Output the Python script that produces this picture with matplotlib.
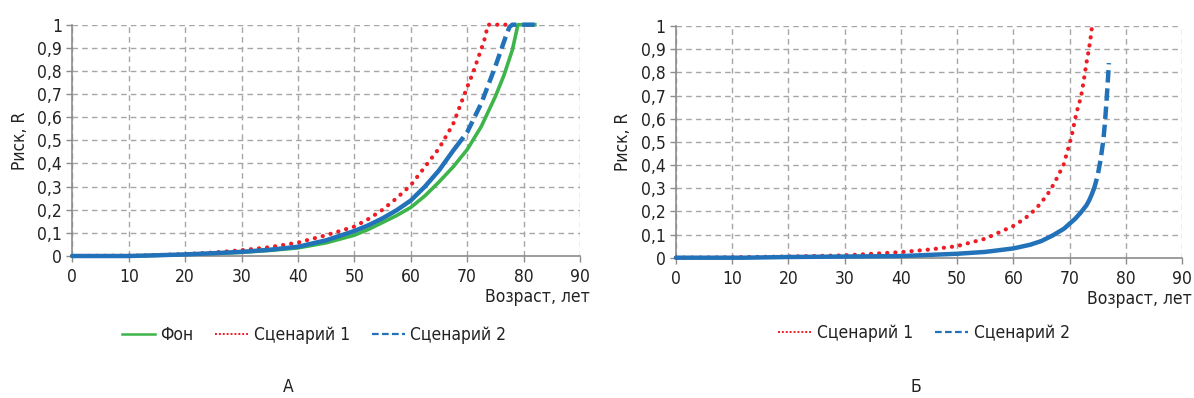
import matplotlib.pyplot as plt
from matplotlib.lines import Line2D
import numpy as np

plt.rcParams['font.family'] = ['DejaVu Sans']
plt.rcParams['font.stretch'] = 'condensed'

# panel A, age (years) vs risk R
a_bg_x = [0, 10, 15, 20, 25, 30, 35, 40, 45, 50, 52.5, 55, 57.5, 60, 62.5, 65, 67.5, 70, 72.5, 75, 76.5, 78, 79, 82]
a_bg_y = [0, 0, 0.003, 0.006, 0.01, 0.016, 0.024, 0.035, 0.057, 0.09, 0.115, 0.145, 0.175, 0.21, 0.26, 0.32, 0.385, 0.46, 0.56, 0.69, 0.78, 0.89, 1.0, 1.0]

a_s1_x = [0, 12, 20, 25, 30, 35, 40, 45, 50, 52.5, 55, 57.5, 60, 62.5, 65, 67.5, 70, 71, 72, 73, 73.7, 77]
a_s1_y = [0, 0.002, 0.008, 0.015, 0.025, 0.038, 0.058, 0.09, 0.127, 0.16, 0.2, 0.25, 0.306, 0.385, 0.465, 0.57, 0.73, 0.79, 0.86, 0.93, 1.0, 1.0]

a_s2_x = [0, 10, 15, 20, 25, 30, 35, 40, 45, 50, 52.5, 55, 57.5, 60, 62.5, 65, 67.5, 70, 72.5, 75, 76, 77, 77.5, 78, 82]
a_s2_y = [0, 0, 0.003, 0.007, 0.012, 0.018, 0.027, 0.04, 0.068, 0.108, 0.133, 0.163, 0.198, 0.24, 0.3, 0.37, 0.455, 0.535, 0.66, 0.82, 0.89, 0.96, 0.99, 1.0, 1.0]
a_s2_solid_until = 68

# panel Б
b_s1_x = [0, 7, 20, 30, 40, 45, 50, 55, 60, 62, 64, 65, 66, 67, 68, 69, 69.5, 70, 70.5, 71, 71.5, 72, 72.5, 73, 73.3, 73.7, 74]
b_s1_y = [0, 0.001, 0.005, 0.01, 0.024, 0.035, 0.05, 0.082, 0.137, 0.168, 0.21, 0.24, 0.27, 0.31, 0.355, 0.405, 0.45, 0.49, 0.54, 0.6, 0.65, 0.69, 0.76, 0.84, 0.88, 0.94, 1.0]

b_s2_x = [0, 12, 20, 30, 40, 50, 55, 60, 63, 65, 67, 69, 71, 72, 73, 73.5, 74, 74.5, 75, 75.5, 76, 76.25, 76.5, 76.75, 77]
b_s2_y = [0, 0, 0.003, 0.005, 0.007, 0.017, 0.025, 0.04, 0.056, 0.072, 0.096, 0.125, 0.168, 0.195, 0.226, 0.248, 0.276, 0.31, 0.355, 0.42, 0.506, 0.57, 0.65, 0.74, 0.84]
b_s2_solid_until = 74.2

x_ticks = list(range(0, 100, 10))
y_ticks = [0, 0.1, 0.2, 0.3, 0.4, 0.5, 0.6, 0.7, 0.8, 0.9, 1.0]
y_labels = ['0', '0,1', '0,2', '0,3', '0,4', '0,5', '0,6', '0,7', '0,8', '0,9', '1']

GREEN = '#3db54a'
RED = '#ee1c25'
BLUE = '#2272b9'
GRID = '#a6a6a6'
AXIS = '#8c8c8c'
TXT = '#222222'
FS = 12.5


def split_curve(xs, ys, x_cut):
    """ Split a curve into a dense (solid looking) part and the rest """
    xs, ys = np.asarray(xs, float), np.asarray(ys, float)
    y_cut = np.interp(x_cut, xs, ys)
    lo = xs < x_cut
    hi = xs > x_cut
    x1 = np.append(xs[lo], x_cut)
    y1 = np.append(ys[lo], y_cut)
    x2 = np.insert(xs[hi], 0, x_cut)
    y2 = np.insert(ys[hi], 0, y_cut)
    return (x1, y1), (x2, y2)


def style_axes(ax):
    ax.set_xlim(0, 90)
    ax.set_ylim(0, 1)
    ax.set_xticks(x_ticks)
    ax.set_yticks(y_ticks)
    ax.set_yticklabels(y_labels)
    ax.tick_params(labelsize=FS, colors=AXIS, labelcolor=TXT, length=4, width=1)
    ax.tick_params(axis='x', pad=5)
    ax.grid(True, color=GRID, linestyle=(0, (4, 3)), linewidth=1)
    ax.set_axisbelow(True)
    for s in ['top', 'right']:
        ax.spines[s].set_visible(False)
    for s in ['left', 'bottom']:
        ax.spines[s].set_color(AXIS)
        ax.spines[s].set_linewidth(1.2)
    ax.set_ylabel('Риск, R', fontsize=FS, color=TXT, labelpad=6)
    ax.set_xlabel('Возраст, лет', fontsize=FS, color=TXT)
    ax.xaxis.set_label_coords(1.02, -0.177)
    ax.xaxis.label.set_horizontalalignment('right')
    ax.xaxis.label.set_verticalalignment('center')


def dotted(ax, xs, ys):
    ax.plot(xs, ys, color=RED, linewidth=3.0, linestyle=(0, (0.05, 1.9)),
            dash_capstyle='round', zorder=3, clip_on=False)


def dashed(ax, xs, ys, x_cut):
    (x1, y1), (x2, y2) = split_curve(xs, ys, x_cut)
    ax.plot(x1, y1, color=BLUE, linewidth=3.2, solid_capstyle='round', zorder=4,
            clip_on=False)
    ax.plot(x2, y2, color=BLUE, linewidth=3.2, linestyle=(0, (2.8, 1.3)), zorder=4,
            clip_on=False)


fig = plt.figure(figsize=(11.94, 3.98), dpi=100)
ax1 = fig.add_axes([72.3 / 1194, 1 - 256 / 398, (580 - 72.3) / 1194, (256 - 24.7) / 398])
ax2 = fig.add_axes([676 / 1194, 1 - 257.7 / 398, (1182 - 676) / 1194, (257.7 - 26) / 398])

# panel A
ax1.plot(a_bg_x, a_bg_y, color=GREEN, linewidth=2.6, zorder=2, clip_on=False)
dotted(ax1, a_s1_x, a_s1_y)
dashed(ax1, a_s2_x, a_s2_y, a_s2_solid_until)
style_axes(ax1)

# panel Б
dotted(ax2, b_s1_x, b_s1_y)
dashed(ax2, b_s2_x, b_s2_y, b_s2_solid_until)
style_axes(ax2)

h_bg = Line2D([], [], color=GREEN, linewidth=1.8)
h_s1 = Line2D([], [], color=RED, linewidth=1.4, linestyle=(0, (1, 1)))
h_s2 = Line2D([], [], color=BLUE, linewidth=1.6, linestyle=(0, (3, 1.5)))

leg_kw = dict(loc='center', frameon=False, fontsize=FS, handlelength=1.9,
              handletextpad=0.3, columnspacing=1.3, labelcolor=TXT)
fig.legend([h_bg, h_s1, h_s2], ['Фон', 'Сценарий 1', 'Сценарий 2'], ncol=3,
           bbox_to_anchor=(314 / 1194, 1 - 335 / 398), **leg_kw)
fig.legend([h_s1, h_s2], ['Сценарий 1', 'Сценарий 2'], ncol=2,
           bbox_to_anchor=(924 / 1194, 1 - 333 / 398), **leg_kw)

fig.text(288 / 1194, 1 - 387 / 398, 'А', fontsize=FS, ha='center', va='center', color=TXT)
fig.text(916 / 1194, 1 - 387 / 398, 'Б', fontsize=FS, ha='center', va='center', color=TXT)

fig.savefig('out.png', dpi=100)
